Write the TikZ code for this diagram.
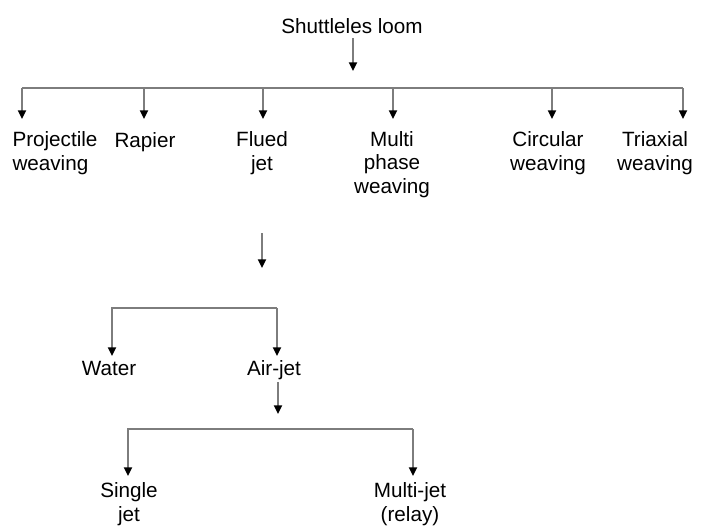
\documentclass[tikz,border=0pt]{standalone}
\usepackage{fontspec}
\setmainfont{Liberation Sans}
\usetikzlibrary{arrows.meta}

\tikzset{every picture/.style={line width=0.75pt}}
\tikzset{
  lbl/.style={font=\fontsize{15.5}{17.3}\selectfont, inner sep=0.75pt, align=center, anchor=base},
  bus/.style={draw={rgb,255:red,125;green,125;blue,125}, line width=1.3pt},
  arr/.style={bus, -{Triangle[length=6.5pt,width=6pt,color=black]}}
}

\begin{document}
\begin{tikzpicture}[x=0.75pt,y=0.75pt,yscale=-1,xscale=1]
\useasboundingbox (0,0) rectangle (706,525);

% Text Node (multi-line nodes sit on the baseline of their last line)
\node [lbl] (loom) at (352,33) {Shuttleles loom};
% Text Node
\node [lbl, align=left] (proj) at (55,170) {Projectile\\weaving};
% Text Node
\node [lbl] (rapier) at (145,147) {Rapier};
% Text Node
\node [lbl] (flued) at (262,170) {Flued\\jet};
% Text Node
\node [lbl] (multi) at (392,193) {Multi\\phase\\weaving};
% Text Node
\node [lbl] (circ) at (548,170) {Circular\\weaving};
% Text Node
\node [lbl] (triax) at (655,170) {Triaxial\\weaving};
% Text Node
\node [lbl] (water) at (109,375) {Water};
% Text Node
\node [lbl] (airjet) at (274,375) {Air-jet};
% Text Node
\node [lbl] (single) at (129,521) {Single\\jet};
% Text Node
\node [lbl] (mjet) at (410,521) {Multi-jet\\(relay)};

%Coordinates of the bars
\coordinate (loomtop) at (353,38);
\coordinate (loomtip) at (353,71);
\coordinate (barL) at (22,88);
\coordinate (barR) at (683,88);
\coordinate (fluedtop) at (262,233);
\coordinate (fluedtip) at (262,268);
\coordinate (wbarL) at (112,308);
\coordinate (wbarR) at (277,308);
\coordinate (airtop) at (278,382);
\coordinate (airtip) at (278,414);
\coordinate (sbarL) at (128,429);
\coordinate (sbarR) at (413,429);

%Straight Lines
\draw [arr] (loomtop) -- (loomtip);
\draw [bus] (barL) -- (barR);
\foreach \x in {22,144,263,393,552,683}
  \draw [arr] (\x,88) -- (\x,119);

%Straight Lines
\draw [arr] (fluedtop) -- (fluedtip);
\draw [arr] (wbarR) -- (wbarL) -- (112,356);
\draw [arr] (wbarR) -- (277,356);

%Straight Lines
\draw [arr] (airtop) -- (airtip);
\draw [arr] (sbarR) -- (sbarL) -- (128,476);
\draw [arr] (sbarR) -- (413,476);

\end{tikzpicture}
\end{document}
